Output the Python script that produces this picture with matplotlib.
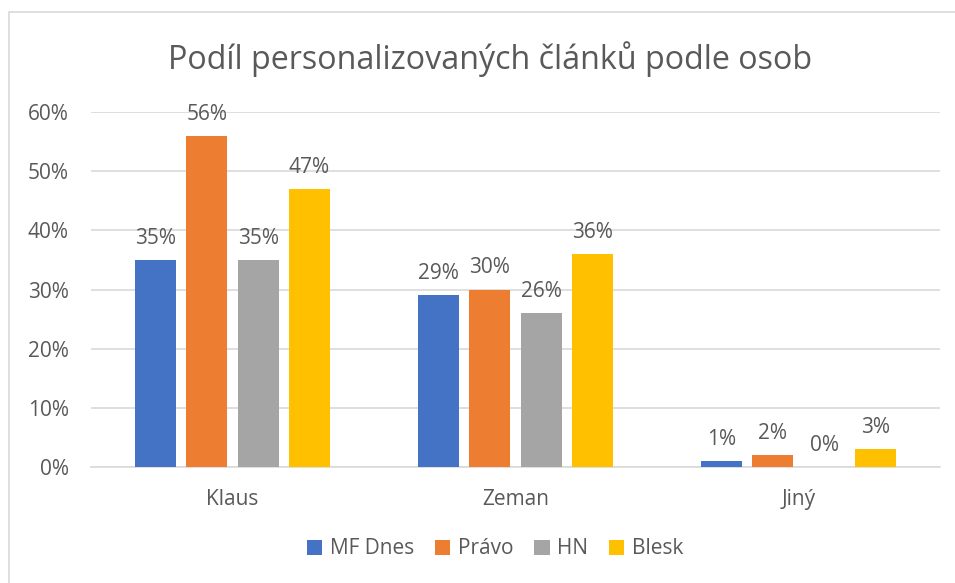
import matplotlib.pyplot as plt
import numpy as np
from matplotlib.patches import Rectangle

categories = ["Klaus", "Zeman", "Jiný"]
series_names = ["MF Dnes", "Právo", "HN", "Blesk"]
mf_dnes = [0.35, 0.29, 0.01]
pravo = [0.56, 0.30, 0.02]
hn = [0.35, 0.26, 0.00]
blesk = [0.47, 0.36, 0.03]
y_ticks = [0.0, 0.1, 0.2, 0.3, 0.4, 0.5, 0.6]

colors = ["#4472c4", "#ed7d31", "#a5a5a5", "#ffc000"]
text_color = "#595959"
grid_color = "#d9d9d9"

plt.rcParams["font.family"] = ["Open Sans", "DejaVu Sans"]

fig = plt.figure(figsize=(9.55, 5.83), dpi=100)
ax = fig.add_axes([91 / 955, 116 / 583, 849 / 955, 355 / 583])

# chart frame
fig.patches.append(Rectangle((9 / 955, -0.1), 1.0, (583 - 12) / 583 + 0.1,
                             transform=fig.transFigure, fill=False,
                             edgecolor=grid_color, linewidth=1.2))

x = np.arange(len(categories))
pitch = 0.181
width = 0.145
all_series = [mf_dnes, pravo, hn, blesk]
for i, (name, vals) in enumerate(zip(series_names, all_series)):
    pos = x + (i - 1.5) * pitch
    bars = ax.bar(pos, vals, width=width, color=colors[i], label=name, zorder=3)
    for b, v in zip(bars, vals):
        ax.annotate(f"{v * 100:.0f}%", (b.get_x() + b.get_width() / 2, v),
                    xytext=(0, 8), textcoords="offset points",
                    ha="center", va="bottom", fontsize=15, color=text_color)

ax.set_xlim(-0.5, 2.5)
ax.set_ylim(0, 0.6)
ax.set_yticks(y_ticks)
ax.set_yticklabels([f"{t * 100:.0f}%" for t in y_ticks])
ax.set_xticks(x)
ax.set_xticklabels(categories)
ax.tick_params(axis="both", length=0, labelsize=15, labelcolor=text_color)
ax.tick_params(axis="y", pad=16)
ax.tick_params(axis="x", pad=16)
ax.grid(axis="y", color=grid_color, linewidth=1.2, zorder=0)
for side in ["top", "right", "left"]:
    ax.spines[side].set_visible(False)
ax.spines["bottom"].set_color(grid_color)
ax.spines["bottom"].set_linewidth(1.2)

fig.text(490 / 955, 1 - 59 / 583, "Podíl personalizovaných článků podle osob",
         ha="center", va="center", fontsize=23.2, color=text_color)

fig.legend(loc="center", bbox_to_anchor=(495 / 955, 1 - 549 / 583), ncol=4,
           frameon=False, fontsize=15, labelcolor=text_color,
           handlelength=0.75, handleheight=0.75, handletextpad=0.35,
           columnspacing=1.0)

fig.savefig("out.png", dpi=100)
